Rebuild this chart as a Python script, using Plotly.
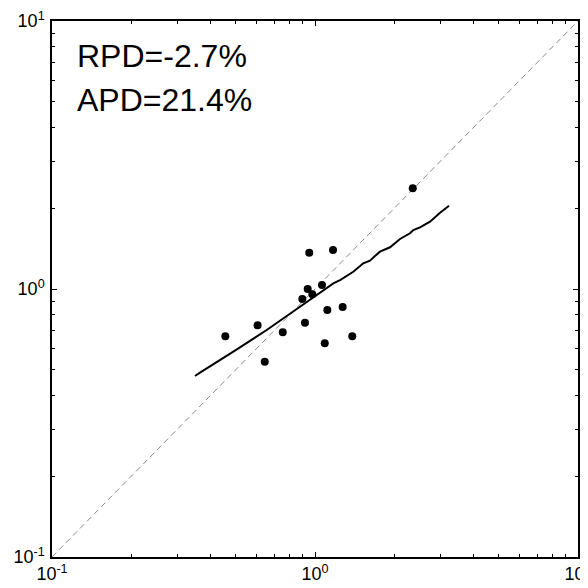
import plotly.graph_objects as go

# Scatter data (x: reference, y: estimate)
pts_x = [2.353, 0.951, 1.171, 1.063, 0.938, 0.977, 0.895, 1.114, 1.274,
         0.605, 0.916, 0.456, 0.754, 1.386, 1.089, 0.644]
pts_y = [2.376, 1.366, 1.398, 1.035, 1.000, 0.955, 0.918, 0.835, 0.857,
         0.732, 0.749, 0.666, 0.689, 0.666, 0.627, 0.535]

# Smoothed fit curve
fit_x = [0.3498, 0.3654, 0.4892, 0.6552, 0.8770, 1.174, 1.245, 1.398, 1.526,
         1.618, 1.691, 1.766, 1.929, 2.105, 2.297, 2.365, 2.507, 2.737, 2.988, 3.233]
fit_y = [0.4735, 0.4873, 0.5834, 0.7031, 0.8589, 1.050, 1.080, 1.160, 1.247,
         1.275, 1.328, 1.378, 1.431, 1.537, 1.614, 1.660, 1.699, 1.783, 1.926, 2.046]

# 1:1 line
one_x = [0.1, 10]
one_y = [0.1, 10]

tick_vals = [0.1, 1, 10]
tick_text = ["10<sup>-1</sup>", "10<sup>0</sup>", "10<sup>1</sup>"]
minor_vals = [0.2, 0.3, 0.4, 0.5, 0.6, 0.7, 0.8, 0.9, 2, 3, 4, 5, 6, 7, 8, 9]

labels = ["RPD=-2.7%", "APD=21.4%"]

fig = go.Figure()
fig.add_trace(go.Scatter(x=one_x, y=one_y, mode="lines",
                         line=dict(color="#8a8a8a", width=1, dash="6px,4px"),
                         showlegend=False))
fig.add_trace(go.Scatter(x=fit_x, y=fit_y, mode="lines",
                         line=dict(color="black", width=2),
                         showlegend=False))
fig.add_trace(go.Scatter(x=pts_x, y=pts_y, mode="markers",
                         marker=dict(color="black", size=8),
                         showlegend=False))

axis_common = dict(
    type="log", range=[-1, 1], tickmode="array", tickvals=tick_vals,
    ticktext=tick_text, ticks="inside", ticklen=5, tickwidth=1,
    tickcolor="black", showline=True, linecolor="black", linewidth=1.5,
    mirror="ticks", showgrid=False, zeroline=False, automargin=False,
    ticklabeloverflow="allow",
    tickfont=dict(family="Liberation Sans, Arial", size=18, color="black"),
    minor=dict(tickmode="array", tickvals=minor_vals, ticks="inside",
               ticklen=3, tickwidth=1, tickcolor="black", showgrid=False),
)

fig.update_xaxes(**axis_common, ticklabelstandoff=0)
fig.update_yaxes(**axis_common, ticklabelstandoff=2)

fig.add_annotation(x=0.0437, y=0.9347, xref="paper", yref="paper",
                   text=labels[0], showarrow=False, xanchor="left", yanchor="middle",
                   font=dict(family="Liberation Sans, Arial", size=32, color="black"))
fig.add_annotation(x=0.0437, y=0.8535, xref="paper", yref="paper",
                   text=labels[1], showarrow=False, xanchor="left", yanchor="middle",
                   font=dict(family="Liberation Sans, Arial", size=32, color="black"))

# page body has an 8px margin: shift the figure so the plot box lands where it should
fig.update_layout(
    width=580, height=580,
    margin=dict(l=44, r=10, t=13, b=31),
    plot_bgcolor="white", paper_bgcolor="white",
)

fig.write_html("out.html")
